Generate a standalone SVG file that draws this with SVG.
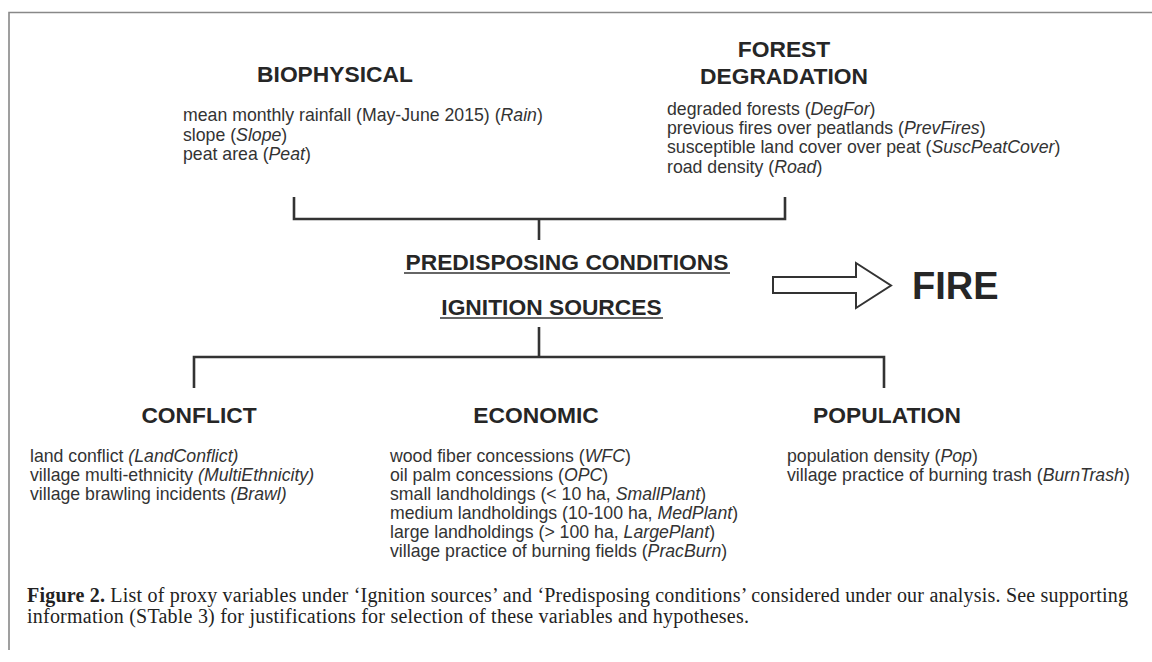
<svg xmlns="http://www.w3.org/2000/svg" width="1152" height="662" viewBox="0 0 1152 662">
<style>
.h{font-family:"Liberation Sans",Arial,sans-serif;font-weight:bold;font-size:22.8px;fill:#262626;text-anchor:middle}
.t{font-family:"Liberation Sans",Arial,sans-serif;font-size:17.7px;fill:#333}
.i{font-style:italic}
.cap{font-family:"Liberation Serif","Times New Roman",serif;font-size:20px;fill:#222}
.ln{fill:none;stroke:#333;stroke-width:2.6}
.ul{stroke:#333;stroke-width:1.6}
</style>
<rect width="1152" height="662" fill="#ffffff"/>
<g id="frame"><path d="M9,650 V12.5 H1152" fill="none" stroke="#888" stroke-width="1.6"/></g>

<g id="biophysical">
<text class="h" x="335" y="82">BIOPHYSICAL</text>
<text class="t" x="183" y="121">mean monthly rainfall (May-June 2015) (<tspan class="i">Rain</tspan>)</text>
<text class="t" x="183" y="140.5">slope (<tspan class="i">Slope</tspan>)</text>
<text class="t" x="183" y="160">peat area (<tspan class="i">Peat</tspan>)</text>
</g>

<g id="forest-degradation">
<text class="h" x="784" y="57">FOREST</text>
<text class="h" x="784" y="84">DEGRADATION</text>
<text class="t" x="667" y="115">degraded forests (<tspan class="i">DegFor</tspan>)</text>
<text class="t" x="667" y="134">previous fires over peatlands (<tspan class="i">PrevFires</tspan>)</text>
<text class="t" x="667" y="153">susceptible land cover over peat (<tspan class="i">SuscPeatCover</tspan>)</text>
<text class="t" x="667" y="172.5">road density (<tspan class="i">Road</tspan>)</text>
</g>

<g id="predisposing">
<text class="h" x="567" y="270">PREDISPOSING CONDITIONS</text>
<line class="ul" x1="404" y1="273" x2="730" y2="273"/>
</g>

<g id="ignition">
<text class="h" x="551.5" y="315">IGNITION SOURCES</text>
<line class="ul" x1="440" y1="318" x2="663" y2="318"/>
</g>

<g id="fire">
<text x="912" y="299" style="font-family:'Liberation Sans',Arial,sans-serif;font-weight:bold;font-size:38px;fill:#262626">FIRE</text>
</g>

<g id="connectors">
<path class="ln" d="M294,197 V219 H785 V197"/>
<path class="ln" d="M539,219 V240"/>
<path class="ln" d="M539,327 V357"/>
<path class="ln" d="M194,388 V357 H884 V388"/>
<polygon points="773,277 856,277 856,263 891,285.5 856,308 856,293 773,293" fill="#fff" stroke="#333" stroke-width="2"/>
</g>

<g id="conflict">
<text class="h" x="199" y="423">CONFLICT</text>
<text class="t" x="30" y="462">land conflict <tspan class="i">(LandConflict)</tspan></text>
<text class="t" x="30" y="481">village multi-ethnicity <tspan class="i">(MultiEthnicity)</tspan></text>
<text class="t" x="30" y="500">village brawling incidents <tspan class="i">(Brawl)</tspan></text>
</g>

<g id="economic">
<text class="h" x="536" y="423">ECONOMIC</text>
<text class="t" x="390" y="462">wood fiber concessions (<tspan class="i">WFC</tspan>)</text>
<text class="t" x="390" y="481">oil palm concessions (<tspan class="i">OPC</tspan>)</text>
<text class="t" x="390" y="500">small landholdings (&lt; 10 ha, <tspan class="i">SmallPlant</tspan>)</text>
<text class="t" x="390" y="519">medium landholdings (10-100 ha, <tspan class="i">MedPlant</tspan>)</text>
<text class="t" x="390" y="538">large landholdings (&gt; 100 ha, <tspan class="i">LargePlant</tspan>)</text>
<text class="t" x="390" y="557">village practice of burning fields (<tspan class="i">PracBurn</tspan>)</text>
</g>

<g id="population">
<text class="h" x="887" y="423">POPULATION</text>
<text class="t" x="787" y="462">population density (<tspan class="i">Pop</tspan>)</text>
<text class="t" x="787" y="481">village practice of burning trash (<tspan class="i">BurnTrash</tspan>)</text>
</g>

<g id="caption">
<text class="cap" x="27" y="602" textLength="1101" lengthAdjust="spacing"><tspan font-weight="bold">Figure 2.</tspan> List of proxy variables under ‘Ignition sources’ and ‘Predisposing conditions’ considered under our analysis. See supporting</text>
<text class="cap" x="27" y="623" textLength="722" lengthAdjust="spacing">information (STable 3) for justifications for selection of these variables and hypotheses.</text>
</g>
</svg>
